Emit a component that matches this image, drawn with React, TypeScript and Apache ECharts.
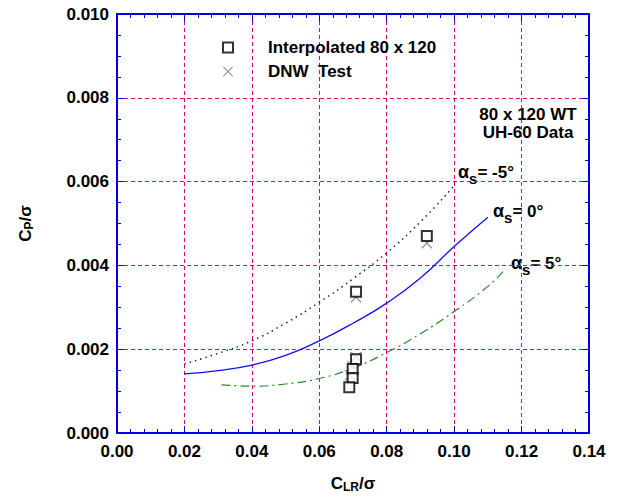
import React, { useEffect, useRef } from "react";
import * as echarts from "echarts";

const interpX = [0.0919, 0.0709, 0.0709, 0.0699, 0.0699, 0.0689];
const interpY = [0.0047, 0.00337, 0.00176, 0.00153, 0.00131, 0.00109];
const dnwX = [0.0919, 0.0709, 0.0709, 0.0698, 0.0691];
const dnwY = [0.00453, 0.00324, 0.00181, 0.0016, 0.00138];

const m5X = [0.02, 0.03, 0.04, 0.05, 0.06, 0.07, 0.08, 0.09, 0.1];
const m5Y = [0.00165, 0.0019, 0.0022, 0.00262, 0.00312, 0.00368, 0.0043, 0.00504, 0.0059];
const z0X = [0.02, 0.03, 0.04, 0.05, 0.06, 0.07, 0.08, 0.09, 0.1, 0.11];
const z0Y = [0.00141, 0.00149, 0.00162, 0.00185, 0.0022, 0.00262, 0.0031, 0.0037, 0.00445, 0.00515];
const p5X = [0.031, 0.04, 0.05, 0.06, 0.07, 0.08, 0.09, 0.1, 0.11, 0.115];
const p5Y = [0.00115, 0.00112, 0.00117, 0.0013, 0.00155, 0.00192, 0.00237, 0.0029, 0.0035, 0.0039];

const FONT = "Liberation Sans";
const BLUE = "#0000dd";
const MAG = "#e0007a";
const zip = (a: number[], b: number[]) => a.map((v, i) => [v, b[i]]);
const XPATH = "path://M0,0.8L0.8,0L5,4.2L9.2,0L10,0.8L5.8,5L10,9.2L9.2,10L5,5.8L0.8,10L0,9.2L4.2,5Z";

export default function App() {
  const ref = useRef<HTMLDivElement>(null);
  useEffect(() => {
    const chart = echarts.init(ref.current!, null, { renderer: "svg" });
    const rich = {
      a: { fontFamily: FONT, fontWeight: "bold", fontSize: 18, color: "#000" },
      s: { fontFamily: FONT, fontWeight: "bold", fontSize: 15, color: "#000", verticalAlign: "bottom", padding: [12, 0, 0, 0] },
      t: { fontFamily: FONT, fontWeight: "bold", fontSize: 17, color: "#000" },
    };
    const note = (x: number, y: number, txt: string) => ({
      type: "text",
      left: x,
      top: y,
      style: { text: "{a|α}{s|s}{t|" + txt + "}", rich },
    });
    const grid = { show: true, lineStyle: { color: MAG, type: [4, 3], width: 1 } };
    const xCommon = {
      type: "value",
      min: 0,
      max: 0.14,
      interval: 0.02,
      axisLine: { show: true, onZero: false, lineStyle: { color: BLUE, width: 2 } },
      axisTick: { show: true, inside: true, length: 7, lineStyle: { color: BLUE } },
      minorTick: { show: true, splitNumber: 5, length: 4, lineStyle: { color: BLUE } },
    };
    const yCommon = {
      type: "value",
      min: 0,
      max: 0.01,
      interval: 0.002,
      axisLine: { show: true, onZero: false, lineStyle: { color: BLUE, width: 2 } },
      axisTick: { show: true, inside: true, length: 7, lineStyle: { color: BLUE } },
      minorTick: { show: true, splitNumber: 4, length: 4, lineStyle: { color: BLUE } },
    };
    const lab = { fontFamily: FONT, fontWeight: "bold", fontSize: 17, color: "#000" };
    const nameRich = {
      c: { ...lab, fontSize: 17 },
      sub: { ...lab, fontSize: 12, verticalAlign: "bottom", padding: [8, 0, 0, 0] },
    };
    chart.setOption({
      animation: false,
      backgroundColor: "#fff",
      grid: { left: 117, right: 30, top: 14, bottom: 69, containLabel: false },
      legend: {
        orient: "vertical",
        left: 217,
        top: 34,
        itemGap: 7,
        itemWidth: 10,
        itemHeight: 10,
        data: ["Interpolated 80 x 120", "DNW  Test"],
        textStyle: { ...lab, padding: [0, 0, 0, 30] },
      },
      xAxis: [
        {
          ...xCommon,
          position: "bottom",
          splitLine: grid,
          axisLabel: { ...lab, margin: 10, formatter: (v: number) => v.toFixed(2) },
          name: "{c|C}{sub|LR}{c|/σ}",
          nameLocation: "middle",
          nameGap: 40,
          nameTextStyle: { rich: nameRich },
        },
        { ...xCommon, position: "top", splitLine: { show: false }, axisLabel: { show: false } },
      ],
      yAxis: [
        {
          ...yCommon,
          position: "left",
          splitLine: grid,
          axisLabel: { ...lab, margin: 8, formatter: (v: number) => v.toFixed(3) },
          name: "{c|C}{sub|P}{c|/σ}",
          nameLocation: "middle",
          nameRotate: 90,
          nameGap: 82,
          nameTextStyle: { rich: nameRich },
        },
        { ...yCommon, position: "right", splitLine: { show: false }, axisLabel: { show: false } },
      ],
      graphic: [
        {
          type: "text",
          x: 528,
          y: 123,
          style: {
            text: "80 x 120 WT\nUH-60 Data",
            font: "bold 17px " + FONT,
            lineHeight: 18,
            fill: "#000",
            textAlign: "center",
            textVerticalAlign: "middle",
          },
        },
        note(458, 163, "= -5°"),
        note(493, 202, "= 0°"),
        note(511, 254, "= 5°"),
      ],
      series: [
        {
          type: "line",
          data: zip(m5X, m5Y),
          smooth: true,
          showSymbol: false,
          lineStyle: { color: "#222", width: 1.5, type: [1.5, 4] },
        },
        {
          type: "line",
          data: zip(z0X, z0Y),
          smooth: true,
          showSymbol: false,
          lineStyle: { color: "#1010f0", width: 1.3 },
        },
        {
          type: "line",
          data: zip(p5X, p5Y),
          smooth: true,
          showSymbol: false,
          lineStyle: { color: "#2a8a2a", width: 1.2, type: [9, 4, 2, 4] },
        },
        {
          name: "DNW  Test",
          type: "scatter",
          data: zip(dnwX, dnwY),
          symbol: XPATH,
          symbolSize: 11,
          itemStyle: { color: "#777" },
          z: 3,
        },
        {
          name: "Interpolated 80 x 120",
          type: "scatter",
          data: zip(interpX, interpY),
          symbol: "emptyRect",
          symbolSize: 10,
          itemStyle: { color: "#000", borderColor: "#000", borderWidth: 1.2 },
          z: 4,
        },
      ],
    });
    return () => chart.dispose();
  }, []);
  return <div ref={ref} style={{ position: "fixed", left: 0, top: 0, width: 619, height: 502 }} />;
}
